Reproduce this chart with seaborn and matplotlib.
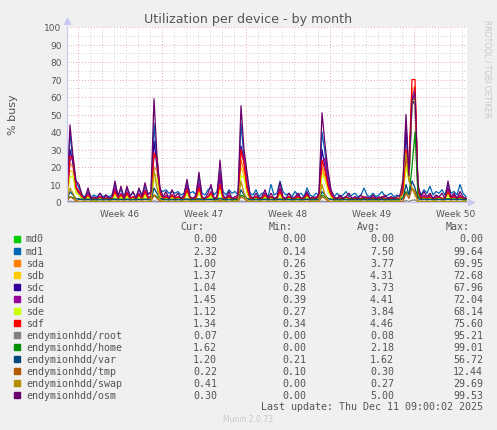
import numpy as np
import pandas as pd
import matplotlib
matplotlib.use("Agg")
import matplotlib.pyplot as plt
from matplotlib.patches import Rectangle
import seaborn as sns

# 6-hour samples, day 0 = Monday of week 46
t0 = -0.917
step = 0.25

md0 = [0] * 134
md1 = [3, 40, 22, 12, 8, 4, 3, 6, 3, 4, 3, 5, 3, 4, 3, 4, 10, 4, 7, 3, 8, 4, 5, 3,
       7, 4, 9, 5, 5, 45, 22, 7, 6, 7, 5, 6, 5, 6, 4, 5, 11, 5, 6, 4, 14, 5, 4, 7,
       8, 4, 6, 18, 6, 4, 7, 5, 6, 4, 45, 25, 14, 5, 4, 7, 3, 5, 5, 3, 10, 4, 5, 12,
       6, 4, 5, 3, 6, 4, 5, 3, 8, 4, 3, 5, 4, 40, 28, 15, 6, 3, 5, 3, 4, 6, 3, 4,
       5, 3, 4, 8, 4, 3, 5, 3, 4, 6, 3, 4, 5, 3, 4, 3, 8, 40, 12, 55, 60, 8, 4, 7,
       5, 9, 4, 6, 5, 7, 4, 10, 5, 6, 4, 10, 5, 3]
sda = [2, 22, 20, 7, 5, 2, 2, 3, 2, 2, 1, 2, 2, 2, 1, 2, 5, 2, 3, 2, 4, 2, 2, 2,
       3, 2, 5, 2, 2, 20, 18, 4, 2, 2, 2, 3, 2, 2, 2, 2, 6, 2, 2, 2, 7, 2, 2, 2,
       4, 2, 2, 8, 2, 2, 2, 2, 2, 2, 24, 18, 7, 2, 2, 2, 2, 2, 3, 2, 2, 2, 2, 5,
       2, 2, 2, 2, 2, 2, 2, 2, 3, 2, 2, 2, 2, 20, 15, 8, 3, 2, 2, 2, 2, 2, 2, 2,
       2, 2, 2, 2, 2, 2, 2, 2, 2, 2, 2, 2, 2, 2, 2, 2, 5, 25, 18, 64, 66, 5, 2, 2,
       2, 2, 2, 2, 2, 2, 2, 5, 2, 2, 2, 2, 2, 2]
sdb = [2, 18, 17, 6, 4, 2, 2, 3, 1, 2, 1, 2, 1, 2, 1, 2, 5, 1, 3, 1, 4, 1, 2, 1,
       3, 1, 4, 2, 2, 16, 15, 4, 1, 2, 1, 3, 1, 2, 1, 2, 5, 1, 2, 1, 6, 1, 2, 2,
       4, 1, 2, 7, 2, 1, 2, 1, 2, 1, 20, 15, 6, 2, 1, 2, 1, 2, 3, 1, 2, 1, 2, 4,
       1, 2, 2, 1, 2, 2, 1, 2, 3, 1, 2, 1, 2, 18, 13, 7, 3, 1, 2, 1, 2, 2, 1, 2,
       1, 2, 1, 2, 1, 2, 1, 2, 1, 2, 1, 2, 1, 2, 1, 2, 4, 22, 15, 62, 60, 5, 2, 2,
       1, 2, 1, 2, 2, 1, 2, 4, 1, 2, 1, 2, 2, 1]
sdc = [3, 30, 22, 8, 5, 2, 2, 4, 2, 2, 2, 3, 2, 2, 2, 2, 7, 2, 4, 2, 5, 2, 3, 2,
       4, 2, 6, 2, 3, 35, 20, 5, 2, 3, 2, 4, 2, 3, 2, 2, 8, 2, 2, 2, 10, 2, 2, 3,
       5, 2, 2, 14, 2, 2, 3, 2, 2, 2, 32, 24, 9, 2, 2, 3, 2, 2, 4, 2, 3, 2, 2, 7,
       2, 2, 3, 2, 2, 3, 2, 2, 4, 2, 2, 2, 3, 30, 20, 10, 4, 2, 2, 2, 2, 3, 2, 2,
       2, 2, 2, 3, 2, 2, 2, 2, 2, 3, 2, 2, 2, 2, 2, 2, 7, 45, 14, 60, 55, 6, 2, 3,
       2, 3, 2, 2, 3, 2, 2, 7, 2, 3, 2, 3, 2, 2]
sdd = [3, 24, 26, 9, 6, 3, 2, 5, 2, 2, 2, 3, 2, 3, 2, 2, 8, 2, 5, 2, 6, 2, 3, 2,
       5, 2, 7, 3, 3, 26, 25, 6, 2, 4, 2, 4, 2, 3, 2, 3, 9, 2, 2, 3, 11, 2, 2, 3,
       6, 2, 2, 16, 3, 2, 4, 2, 2, 3, 28, 26, 10, 3, 2, 3, 2, 2, 5, 2, 3, 2, 2, 8,
       2, 2, 3, 2, 2, 4, 2, 2, 5, 2, 2, 3, 3, 22, 25, 12, 5, 2, 2, 3, 2, 3, 2, 2,
       3, 2, 2, 3, 2, 2, 3, 2, 2, 3, 2, 2, 3, 2, 2, 2, 8, 28, 16, 60, 65, 7, 2, 4,
       2, 4, 2, 3, 3, 2, 2, 8, 2, 4, 2, 4, 2, 2]
sde = [2, 14, 15, 5, 4, 2, 1, 3, 1, 1, 1, 2, 1, 2, 1, 1, 4, 1, 3, 1, 3, 1, 2, 1,
       3, 1, 4, 1, 2, 12, 13, 3, 1, 2, 1, 2, 1, 2, 1, 1, 5, 1, 1, 1, 6, 1, 1, 2,
       3, 1, 1, 7, 1, 1, 2, 1, 1, 1, 15, 14, 5, 1, 1, 2, 1, 1, 3, 1, 2, 1, 1, 4,
       1, 1, 2, 1, 1, 2, 1, 1, 3, 1, 1, 1, 2, 15, 14, 6, 3, 1, 1, 1, 1, 2, 1, 1,
       1, 1, 1, 2, 1, 1, 1, 1, 1, 2, 1, 1, 1, 1, 1, 1, 4, 20, 12, 58, 58, 4, 1, 2,
       1, 2, 1, 1, 2, 1, 1, 4, 1, 2, 1, 2, 1, 1]
sdf = [3, 26, 25, 8, 6, 3, 2, 4, 2, 2, 2, 3, 2, 2, 2, 2, 6, 2, 4, 2, 5, 2, 3, 2,
       4, 2, 6, 2, 3, 28, 24, 5, 2, 3, 2, 4, 2, 3, 2, 2, 7, 2, 2, 2, 8, 2, 2, 3,
       5, 2, 2, 10, 2, 2, 3, 2, 2, 2, 30, 22, 8, 2, 2, 3, 2, 2, 4, 2, 3, 2, 2, 6,
       2, 2, 3, 2, 2, 3, 2, 2, 4, 2, 2, 2, 3, 24, 18, 9, 4, 2, 2, 2, 2, 3, 2, 2,
       2, 2, 2, 3, 2, 2, 2, 2, 2, 3, 2, 2, 2, 2, 2, 2, 6, 30, 20, 70, 70, 6, 2, 3,
       2, 3, 2, 2, 3, 2, 2, 6, 2, 3, 2, 3, 2, 2]
root = [0.05, 0.5, 0.3, 0.1, 0.05, 0.05, 0.05, 0.05, 0.05, 0.05, 0.05, 0.05,
        0.05, 0.05, 0.05, 0.05, 0.1, 0.05, 0.05, 0.05, 0.05, 0.05, 0.05, 0.05,
        0.05, 0.05, 0.1, 0.05, 0.05, 0.6, 0.3, 0.1, 0.05, 0.05, 0.05, 0.05,
        0.05, 0.05, 0.05, 0.05, 0.1, 0.05, 0.05, 0.05, 0.1, 0.05, 0.05, 0.05,
        0.05, 0.05, 0.05, 0.2, 0.05, 0.05, 0.05, 0.05, 0.05, 0.05, 0.5, 0.3,
        0.1, 0.05, 0.05, 0.05, 0.05, 0.05, 0.05, 0.05, 0.05, 0.05, 0.05, 0.1,
        0.05, 0.05, 0.05, 0.05, 0.05, 0.05, 0.05, 0.05, 0.05, 0.05, 0.05, 0.05,
        0.05, 0.5, 0.3, 0.1, 0.05, 0.05, 0.05, 0.05, 0.05, 0.05, 0.05, 0.05,
        0.05, 0.05, 0.05, 0.05, 0.05, 0.05, 0.05, 0.05, 0.05, 0.05, 0.05, 0.05,
        0.05, 0.05, 0.05, 0.05, 0.1, 0.8, 0.3, 1.0, 1.2, 0.1, 0.05, 0.05,
        0.05, 0.05, 0.05, 0.05, 0.05, 0.05, 0.05, 0.1, 0.05, 0.05, 0.05, 0.05,
        0.05, 0.05]
home = [1.8, 3, 2.5, 2, 1.8, 1.6, 1.6, 1.7, 1.5, 1.6, 1.5, 1.6,
        1.5, 1.6, 1.5, 1.6, 1.8, 1.5, 1.7, 1.5, 1.7, 1.5, 1.6, 1.5,
        1.7, 1.5, 1.8, 1.6, 1.6, 4, 3, 2, 1.6, 1.6, 1.5, 1.6,
        1.5, 1.6, 1.5, 1.6, 1.8, 1.5, 1.6, 1.5, 1.9, 1.5, 1.6, 1.6,
        1.7, 1.5, 1.6, 2.2, 1.6, 1.5, 1.6, 1.5, 1.6, 1.5, 4, 3,
        2, 1.6, 1.5, 1.6, 1.5, 1.6, 1.7, 1.5, 1.6, 1.5, 1.6, 1.8,
        1.5, 1.6, 1.6, 1.5, 1.6, 1.6, 1.5, 1.6, 1.7, 1.5, 1.6, 1.5,
        1.6, 4, 3, 2, 1.7, 1.5, 1.6, 1.5, 1.6, 1.6, 1.5, 1.6,
        1.5, 1.6, 1.5, 1.6, 1.5, 1.6, 1.5, 1.6, 1.5, 1.6, 1.5, 1.6,
        1.5, 1.6, 1.5, 1.6, 2, 6, 4, 20, 40, 3, 1.6, 1.7,
        1.6, 1.7, 1.6, 1.6, 1.7, 1.6, 1.6, 1.9, 1.6, 1.7, 1.6, 1.7,
        1.6, 1.6]
var = [1.5, 6, 4, 2, 1.5, 1.3, 1.2, 1.4, 1.2, 1.3, 1.2, 1.3,
       1.2, 1.3, 1.2, 1.3, 1.6, 1.2, 1.4, 1.2, 1.4, 1.2, 1.3, 1.2,
       1.4, 1.2, 1.5, 1.3, 1.3, 8, 5, 2, 1.3, 1.3, 1.2, 1.3,
       1.2, 1.3, 1.2, 1.3, 1.6, 1.2, 1.3, 1.2, 1.7, 1.2, 1.3, 1.3,
       1.4, 1.2, 1.3, 2, 1.3, 1.2, 1.3, 1.2, 1.3, 1.2, 7, 4,
       2, 1.3, 1.2, 1.3, 1.2, 1.3, 1.4, 1.2, 1.3, 1.2, 1.3, 1.5,
       1.2, 1.3, 1.3, 1.2, 1.3, 1.3, 1.2, 1.3, 1.4, 1.2, 1.3, 1.2,
       1.3, 6, 4, 2, 1.4, 1.2, 1.3, 1.2, 1.3, 1.3, 1.2, 1.3,
       1.2, 1.3, 1.2, 1.3, 1.2, 1.3, 1.2, 1.3, 1.2, 1.3, 1.2, 1.3,
       1.2, 1.3, 1.2, 1.3, 2, 10, 4, 12, 8, 2, 1.3, 1.4,
       1.3, 1.4, 1.3, 1.3, 1.4, 1.3, 1.3, 1.6, 1.3, 1.4, 1.3, 1.4,
       1.3, 1.2]
tmp = [0.3, 3, 2, 0.5, 0.4, 0.3, 0.3, 0.4, 0.3, 0.3, 0.3, 0.3,
       0.3, 0.3, 0.3, 0.3, 0.5, 0.3, 0.4, 0.3, 0.4, 0.3, 0.3, 0.3,
       0.4, 0.3, 0.4, 0.3, 0.3, 4, 2, 0.5, 0.3, 0.3, 0.3, 0.3,
       0.3, 0.3, 0.3, 0.3, 0.5, 0.3, 0.3, 0.3, 0.6, 0.3, 0.3, 0.3,
       0.4, 0.3, 0.3, 0.8, 0.3, 0.3, 0.3, 0.3, 0.3, 0.3, 3, 2,
       0.5, 0.3, 0.3, 0.3, 0.3, 0.3, 0.4, 0.3, 0.3, 0.3, 0.3, 0.5,
       0.3, 0.3, 0.3, 0.3, 0.3, 0.3, 0.3, 0.3, 0.4, 0.3, 0.3, 0.3,
       0.3, 3, 2, 0.5, 0.3, 0.3, 0.3, 0.3, 0.3, 0.3, 0.3, 0.3,
       0.3, 0.3, 0.3, 0.3, 0.3, 0.3, 0.3, 0.3, 0.3, 0.3, 0.3, 0.3,
       0.3, 0.3, 0.3, 0.3, 0.5, 5, 2, 8, 6, 0.5, 0.3, 0.3,
       0.3, 0.3, 0.3, 0.3, 0.3, 0.3, 0.3, 0.4, 0.3, 0.3, 0.3, 0.3,
       0.3, 0.2]
swap = [2, 8, 5, 1, 0.3, 0.1, 0.1, 0.2, 0.1, 0.1, 0.1, 0.1,
        0.1, 0.1, 0.1, 0.1, 0.4, 0.1, 0.2, 0.1, 0.2, 0.1, 0.1, 0.1,
        0.2, 0.1, 0.3, 0.1, 0.5, 18, 8, 1, 0.1, 0.1, 0.1, 0.1,
        0.1, 0.1, 0.1, 0.1, 0.5, 0.1, 0.1, 0.1, 0.8, 0.1, 0.1, 0.1,
        0.3, 0.1, 0.1, 1.5, 0.1, 0.1, 0.1, 0.1, 0.1, 0.3, 12, 5,
        1, 0.1, 0.1, 0.1, 0.1, 0.1, 0.2, 0.1, 0.1, 0.1, 0.1, 0.4,
        0.1, 0.1, 0.1, 0.1, 0.1, 0.1, 0.1, 0.1, 0.2, 0.1, 0.1, 0.1,
        0.3, 10, 4, 1, 0.2, 0.1, 0.1, 0.1, 0.1, 0.1, 0.1, 0.1,
        0.1, 0.1, 0.1, 0.1, 0.1, 0.1, 0.1, 0.1, 0.1, 0.1, 0.1, 0.1,
        0.1, 0.1, 0.1, 0.5, 14, 28, 12, 8, 4, 0.5, 0.1, 0.1,
        0.1, 0.1, 0.1, 0.1, 0.1, 0.1, 0.1, 0.3, 0.1, 0.1, 0.1, 0.1,
        0.1, 0.1]
osm = [5, 44, 26, 12, 10, 4, 2, 8, 2, 3, 2, 5, 2, 4, 2, 3, 12, 3, 9, 2, 9, 3, 6, 2,
       8, 3, 11, 4, 6, 59, 26, 8, 3, 6, 2, 7, 3, 5, 2, 4, 13, 3, 2, 4, 17, 3, 2, 5,
       10, 2, 3, 24, 4, 2, 6, 2, 3, 4, 55, 30, 17, 4, 2, 5, 2, 3, 7, 2, 5, 2, 3, 11,
       3, 2, 5, 2, 3, 5, 2, 3, 6, 2, 3, 2, 5, 51, 33, 18, 7, 3, 2, 4, 2, 3, 5, 2,
       3, 2, 4, 2, 3, 2, 4, 2, 3, 2, 4, 2, 3, 2, 3, 4, 12, 50, 15, 58, 62, 10, 3, 6,
       3, 5, 2, 4, 3, 5, 2, 12, 3, 5, 2, 6, 3, 2]

devices = ["md0", "md1", "sda", "sdb", "sdc", "sdd", "sde", "sdf",
           "endymionhdd/root", "endymionhdd/home", "endymionhdd/var",
           "endymionhdd/tmp", "endymionhdd/swap", "endymionhdd/osm"]
series = [md0, md1, sda, sdb, sdc, sdd, sde, sdf, root, home, var, tmp, swap, osm]
colors = ["#00cc00", "#0066b3", "#ff8000", "#ffcc00", "#330099", "#990099",
          "#ccff00", "#ff0000", "#808080", "#008f00", "#00487d", "#b35a00",
          "#b38f00", "#6b006b"]

cur = ["0.00", "2.32", "1.00", "1.37", "1.04", "1.45", "1.12", "1.34",
       "0.07", "1.62", "1.20", "0.22", "0.41", "0.30"]
mins = ["0.00", "0.14", "0.26", "0.35", "0.28", "0.39", "0.27", "0.34",
        "0.00", "0.00", "0.21", "0.10", "0.00", "0.00"]
avgs = ["0.00", "7.50", "3.77", "4.31", "3.73", "4.41", "3.84", "4.46",
        "0.08", "2.18", "1.62", "0.30", "0.27", "5.00"]
maxs = ["0.00", "99.64", "69.95", "72.68", "67.96", "72.04", "68.14", "75.60",
        "95.21", "99.01", "56.72", "12.44", "29.69", "99.53"]

week_labels = ["Week 46", "Week 47", "Week 48", "Week 49", "Week 50"]

rows = []
for name, vals in zip(devices, series):
    for i, v in enumerate(vals):
        rows.append((t0 + step * i, v, name))
df = pd.DataFrame(rows, columns=["t", "busy", "dev"])

W, H = 497, 431
fig = plt.figure(figsize=(W / 100, H / 100), dpi=100, facecolor="#f0f0f0")
ax = fig.add_axes([67 / W, 1 - 203 / H, 400 / W, 175 / H])
ax.set_facecolor("white")

x_lo, x_hi = t0, t0 + 400 / 12
ax.set_xlim(x_lo, x_hi)
ax.set_ylim(0, 100)

# grid: minor = day / 5 %, major = week / 10 %
minor_c, major_c = "#d0d0d0", "#e8a8a8"
dash = (0, (1, 2))
for d in range(0, 33):
    if d % 7 != 0:
        ax.axvline(d, color=minor_c, lw=0.7, ls=dash, zorder=0)
for yv in range(5, 100, 10):
    ax.axhline(yv, color=minor_c, lw=0.7, ls=dash, zorder=0)
for d in range(0, 33, 7):
    ax.axvline(d, color=major_c, lw=0.7, ls=dash, zorder=0)
for yv in range(10, 101, 10):
    ax.axhline(yv, color=major_c, lw=0.7, ls=dash, zorder=0)

sns.lineplot(data=df, x="t", y="busy", hue="dev", hue_order=devices,
             palette=colors, estimator=None, legend=False, linewidth=0.9, ax=ax)

for s in ["top", "right"]:
    ax.spines[s].set_visible(False)
for s in ["left", "bottom"]:
    ax.spines[s].set_color("#c8c8f0")
    ax.spines[s].set_linewidth(0.9)
ax.plot(0, 1.035, marker="^", color="#c8c8f0", markersize=4, transform=ax.transAxes, clip_on=False)
ax.plot(1.01, 0, marker=">", color="#c8c8f0", markersize=4, transform=ax.transAxes, clip_on=False)

ax.set_yticks(range(0, 101, 10))
ax.set_yticklabels([str(v) for v in range(0, 101, 10)])
ax.set_xticks([3.5 + 7 * k for k in range(5)])
ax.set_xticklabels(week_labels)
ax.tick_params(axis="both", length=0, labelsize=6.5, colors="#555555", pad=4)
ax.tick_params(axis="x", pad=5)
ax.set_xlabel("")
ax.set_ylabel("")

fig.text(248 / W, 1 - 19 / H, "Utilization per device - by month", ha="center", va="center",
         fontsize=9.1, color="#555555")
fig.text(13 / W, 1 - 115 / H, "% busy", rotation=90, ha="center", va="center",
         fontsize=8, color="#555555")
fig.text(487 / W, 1 - 20 / H, "RRDTOOL / TOBI OETIKER", rotation=270, ha="center", va="top",
         fontsize=5.5, color="#c8c8c8")

mono = dict(family="DejaVu Sans Mono", fontsize=7.2, color="#555555", va="center")
fig.text(204 / W, 1 - 227 / H, "Cur:", ha="right", **mono)
fig.text(293 / W, 1 - 227 / H, "Min:", ha="right", **mono)
fig.text(381 / W, 1 - 227 / H, "Avg:", ha="right", **mono)
fig.text(470 / W, 1 - 227 / H, "Max:", ha="right", **mono)
for k, name in enumerate(devices):
    y = 239.5 + 12.02 * k
    fig.patches.append(Rectangle((14 / W, 1 - (y + 3) / H), 6 / W, 6 / H,
                                 transform=fig.transFigure, color=colors[k]))
    fig.text(26 / W, 1 - y / H, name, ha="left", **mono)
    fig.text(217 / W, 1 - y / H, cur[k], ha="right", **mono)
    fig.text(306 / W, 1 - y / H, mins[k], ha="right", **mono)
    fig.text(394 / W, 1 - y / H, avgs[k], ha="right", **mono)
    fig.text(483 / W, 1 - y / H, maxs[k], ha="right", **mono)
fig.text(483 / W, 1 - 407.5 / H, "Last update: Thu Dec 11 09:00:02 2025", ha="right", **mono)
fig.text(248 / W, 1 - 420 / H, "Munin 2.0.73", ha="center", va="center",
         fontsize=5.5, color="#c8c8c8")

fig.savefig("out.png", dpi=100, facecolor=fig.get_facecolor())
